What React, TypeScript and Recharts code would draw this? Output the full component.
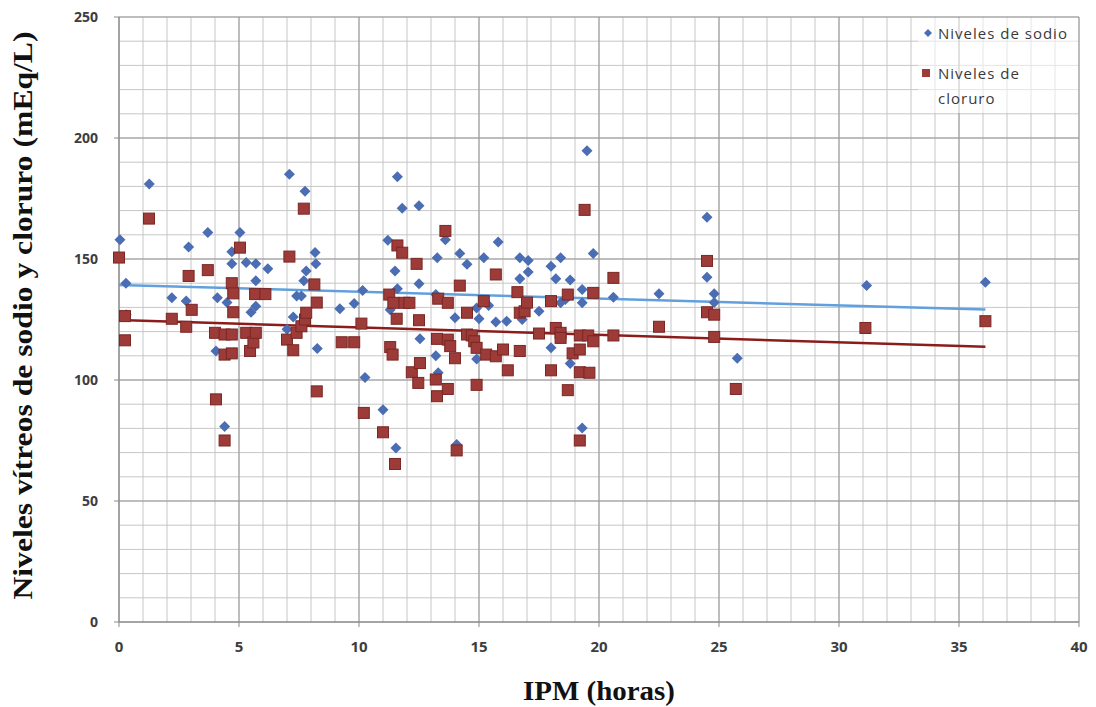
import {
  ScatterChart,
  Scatter,
  XAxis,
  YAxis,
  CartesianGrid,
  ReferenceLine,
  Legend,
} from 'recharts';

// [IPM (horas), nivel (mEq/L)]
const sodio: [number, number][] = [
  [0.04, 158], [0.29, 140], [0.3, 127], [1.26, 181], [2.2, 134], [2.8, 132.6],
  [2.9, 155], [3.7, 161], [4.04, 112], [4.1, 134], [4.4, 80.8], [4.5, 132],
  [4.7, 153], [4.7, 148], [5.04, 161], [5.3, 148.6], [5.5, 128], [5.7, 130.5],
  [5.7, 148], [5.7, 141], [6.2, 146], [7.0, 121], [7.1, 185], [7.26, 126],
  [7.4, 134.7], [7.6, 134.7], [7.7, 141], [7.75, 178], [7.8, 145], [8.17, 152.7],
  [8.2, 148], [8.26, 113], [9.2, 129.4], [9.8, 131.6], [10.15, 137], [10.25, 101],
  [11.0, 87.7], [11.2, 157.7], [11.3, 129], [11.5, 145], [11.54, 71.9], [11.6, 184],
  [11.6, 137.7], [11.8, 171], [12.5, 172], [12.5, 139.8], [12.54, 117], [13.2, 135.3],
  [13.2, 110], [13.26, 150.5], [13.3, 103], [13.6, 158], [14.0, 125.7], [14.07, 73.3],
  [14.2, 152.3], [14.5, 147.8], [14.9, 129.8], [14.9, 108.7], [15.0, 125.3], [15.2, 150.5],
  [15.4, 130.8], [15.7, 124], [15.8, 157], [16.15, 124.3], [16.7, 150.5], [16.7, 141.8],
  [16.8, 125], [17.05, 149.4], [17.05, 144.6], [17.5, 128.4], [18.0, 147], [18.0, 113.3],
  [18.2, 141.8], [18.4, 150.5], [18.4, 131.9], [18.6, 133.3], [18.8, 141.3], [18.8, 106.8],
  [19.3, 131.9], [19.3, 137.4], [19.3, 80.2], [19.5, 194.7], [19.76, 152.3], [20.6, 134.2],
  [22.5, 135.6], [24.5, 167.3], [24.5, 142.5], [24.8, 135.6], [24.8, 132], [25.76, 109],
  [31.15, 139], [36.1, 140.4],
];

const cloruro: [number, number][] = [
  [0, 150.6], [0.25, 126.4], [0.25, 116.4], [1.25, 166.7], [2.2, 125.3], [2.8, 122],
  [2.9, 143], [3.03, 129], [3.7, 145.4], [4.04, 92], [4.0, 119.5], [4.4, 118.8],
  [4.4, 110.5], [4.4, 75], [4.7, 118.8], [4.7, 111], [4.7, 140], [4.76, 135.8],
  [4.76, 128], [5.04, 154.7], [5.3, 119.5], [5.46, 112], [5.6, 115.5], [5.67, 135.5],
  [5.7, 119.5], [6.1, 135.5], [7.0, 116.7], [7.1, 151], [7.26, 112.3], [7.4, 119.5],
  [7.6, 122.2], [7.7, 170.8], [7.75, 125], [7.8, 127.8], [8.14, 139.5], [8.24, 132],
  [8.24, 95.3], [9.28, 115.6], [9.8, 115.6], [10.1, 123.3], [10.2, 86.4], [11.0, 78.4],
  [11.26, 135.3], [11.3, 113.6], [11.4, 110.5], [11.43, 131.9], [11.5, 65.3], [11.57, 125.3],
  [11.6, 155.6], [11.8, 152.6], [11.9, 131.9], [12.1, 131.9], [12.2, 103.2], [12.4, 148],
  [12.47, 98.8], [12.5, 124.7], [12.54, 107], [13.2, 100.2], [13.25, 93.3], [13.25, 117],
  [13.3, 133.6], [13.6, 161.6], [13.7, 131.9], [13.7, 116.7], [13.7, 96.3], [13.8, 114],
  [14.0, 109], [14.07, 70.9], [14.2, 139], [14.5, 127.8], [14.5, 118.8], [14.7, 118.4],
  [14.8, 116], [14.9, 113.3], [14.9, 98], [15.2, 132.6], [15.3, 110.5], [15.7, 143.6],
  [15.7, 109.8], [16.0, 112.6], [16.2, 104], [16.6, 136.3], [16.7, 127.8], [16.7, 112],
  [16.9, 128.4], [17.0, 132], [17.5, 119.2], [18.0, 132.6], [18.0, 104], [18.2, 121.5],
  [18.4, 119.5], [18.4, 117.4], [18.7, 135.3], [18.7, 95.8], [18.9, 111], [19.2, 112.6],
  [19.2, 118.4], [19.2, 103.2], [19.2, 75], [19.4, 170.3], [19.55, 118.4], [19.6, 103],
  [19.76, 136], [19.76, 116], [20.6, 142.2], [20.6, 118.4], [22.5, 122], [24.5, 149.2],
  [24.5, 128], [24.8, 127], [24.8, 117.8], [25.7, 96.3], [31.1, 121.5], [36.1, 124.3],
];

// linear trend ends
const sodioTrend = [{ x: 0, y: 139.3 }, { x: 36.1, y: 129.1 }];
const cloruroTrend = [{ x: 0, y: 124.8 }, { x: 36.1, y: 113.7 }];

const xTicks = [0, 5, 10, 15, 20, 25, 30, 35, 40];
const yTicks = [0, 50, 100, 150, 200, 250];
const xMinor = Array.from({ length: 41 }, (_, i) => i);
const yMinor = Array.from({ length: 26 }, (_, i) => i * 10);

const BLUE = '#4a6db3';
const RED = '#9c3b38';

const toPoints = (rows: [number, number][]) => rows.map(([x, y]) => ({ x, y }));

const Diamond = ({ cx, cy }: any) => (
  <polygon
    points={`${cx},${cy - 5.5} ${cx + 5.5},${cy} ${cx},${cy + 5.5} ${cx - 5.5},${cy}`}
    fill={BLUE}
  />
);

const Square = ({ cx, cy }: any) => (
  <rect x={cx - 5.5} y={cy - 5.5} width={11} height={11} fill={RED} stroke="#7a2724" strokeWidth={1} />
);

const renderLegend = () => (
  <div
    style={{
      position: 'relative',
      width: 160,
      height: 95,
      background: 'rgba(255,255,255,0.55)',
      fontFamily: '"Open Sans", sans-serif',
      fontSize: 15,
      letterSpacing: 1,
      color: '#3a3a3a',
    }}
  >
    <svg width={10} height={10} style={{ position: 'absolute', left: 5, top: 10 }}>
      <polygon points="5,1 9,5 5,9 1,5" fill={BLUE} />
    </svg>
    <span style={{ position: 'absolute', left: 20, top: 4, lineHeight: '22px', whiteSpace: 'nowrap' }}>
      Niveles de sodio
    </span>
    <svg width={10} height={10} style={{ position: 'absolute', left: 3, top: 50 }}>
      <rect x={1} y={1} width={8} height={8} fill={RED} />
    </svg>
    <span style={{ position: 'absolute', left: 20, top: 43, lineHeight: '25px' }}>
      Niveles de
      <br />
      cloruro
    </span>
  </div>
);

const tickStyle = { fill: '#3d3d3d', fontFamily: '"Open Sans", sans-serif', fontWeight: 700 };

export default function App() {
  return (
    <div style={{ position: 'absolute', left: 0, top: 0, width: 1096, height: 707, background: '#fff' }}>
      <ScatterChart width={1096} height={707} margin={{ top: 17, right: 17, bottom: 0, left: 0 }}>
        <CartesianGrid stroke="#c6c6c6" strokeWidth={1} verticalValues={xMinor} horizontalValues={yMinor} />
        <CartesianGrid stroke="#979797" strokeWidth={1} verticalValues={xTicks} horizontalValues={yTicks} />
        <XAxis
          dataKey="x"
          type="number"
          domain={[0, 40]}
          ticks={xTicks}
          height={85}
          tickSize={5}
          tickMargin={14}
          stroke="#8a8a8a"
          tick={{ ...tickStyle, fontSize: 15 }}
          label={{
            content: ({ viewBox }: any) => (
              <text
                x={viewBox.x + viewBox.width / 2}
                y={700}
                textAnchor="middle"
                fontFamily='"Liberation Serif", serif'
                fontWeight={700}
                fontSize={28}
                textLength={152}
                lengthAdjust="spacingAndGlyphs"
                fill="#111"
              >
                IPM (horas)
              </text>
            ),
          }}
        />
        <YAxis
          dataKey="y"
          type="number"
          domain={[0, 250]}
          ticks={yTicks}
          width={119}
          tickSize={5}
          tickMargin={16}
          stroke="#8a8a8a"
          tick={{ ...tickStyle, fontSize: 14 }}
          label={{
            content: ({ viewBox }: any) => {
              const cy = viewBox.y + viewBox.height / 2 - 4;
              return (
                <text
                  x={32}
                  y={cy}
                  transform={`rotate(-90, 32, ${cy})`}
                  textAnchor="middle"
                  fontFamily='"Liberation Serif", serif'
                  fontWeight={700}
                  fontSize={27}
                  textLength={568}
                  lengthAdjust="spacingAndGlyphs"
                  fill="#111"
                >
                  Niveles vítreos de sodio y cloruro (mEq/L)
                </text>
              );
            },
          }}
        />
        <Scatter
          name="Niveles de sodio"
          data={toPoints(sodio)}
          shape={(p: any) => <Diamond {...p} />}
          isAnimationActive={false}
        />
        <Scatter
          name="Niveles de cloruro"
          data={toPoints(cloruro)}
          shape={(p: any) => <Square {...p} />}
          isAnimationActive={false}
        />
        <ReferenceLine segment={sodioTrend} stroke="#62a0dd" strokeWidth={2.5} />
        <ReferenceLine segment={cloruroTrend} stroke="#8b1c1c" strokeWidth={2.5} />
        <Legend
          layout="vertical"
          align="center"
          verticalAlign="middle"
          content={renderLegend}
          wrapperStyle={{ top: 18, left: 918, width: 160, height: 95 }}
        />
      </ScatterChart>
    </div>
  );
}
